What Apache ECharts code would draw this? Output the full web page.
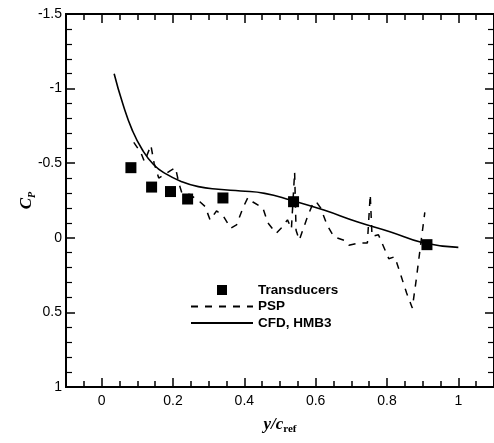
<!DOCTYPE html>
<html>
<head>
<meta charset="utf-8">
<script src="https://cdn.jsdelivr.net/npm/echarts@6/dist/echarts.min.js"></script>
<style>
html, body { margin: 0; padding: 0; background: #fff; }
#chart { width: 494px; height: 443px; }
</style>
</head>
<body>
<div id="chart"></div>
<script>
// Transducers (y/c_ref, Cp)
var transX = [0.082, 0.14, 0.193, 0.241, 0.34, 0.538, 0.912];
var transCp = [-0.47, -0.34, -0.31, -0.26, -0.267, -0.242, 0.046];

// PSP
var pspX = [0.09, 0.11, 0.12, 0.138, 0.147, 0.16, 0.193, 0.207, 0.216, 0.225, 0.248, 0.276, 0.29, 0.304, 0.322, 0.34,
	0.362, 0.378, 0.396, 0.41, 0.424, 0.452, 0.466, 0.489, 0.503, 0.521, 0.532, 0.541, 0.545, 0.554, 0.577, 0.594,
	0.602, 0.614, 0.632, 0.651, 0.683, 0.693, 0.72, 0.745, 0.753, 0.758, 0.776, 0.805, 0.822, 0.84, 0.855, 0.871,
	0.882, 0.896, 0.906];
var pspCp = [-0.64, -0.57, -0.51, -0.62, -0.5, -0.4, -0.45, -0.47, -0.37, -0.3, -0.29, -0.24, -0.21, -0.12, -0.18, -0.15,
	-0.064, -0.086, -0.2, -0.27, -0.24, -0.2, -0.1, -0.03, -0.064, -0.12, -0.06, -0.44, -0.05, 0.015, -0.14, -0.24,
	-0.24, -0.2, -0.086, -0.007, 0.02, 0.05, 0.035, 0.035, -0.29, -0.01, -0.02, 0.14, 0.127, 0.26, 0.37, 0.47,
	0.28, 0.015, -0.17];

// CFD, HMB3
var cfdX = [0.035, 0.059, 0.086, 0.114, 0.146, 0.179, 0.225, 0.271, 0.327, 0.39, 0.457, 0.53, 0.623, 0.716, 0.808, 0.901, 1.0];
var cfdCp = [-1.10, -0.90, -0.72, -0.59, -0.49, -0.43, -0.376, -0.343, -0.325, -0.314, -0.298, -0.253, -0.186, -0.108, -0.041, 0.033, 0.064];

var xMajor = [0, 0.2, 0.4, 0.6, 0.8, 1];
var xMinor = [-0.05, 0.05, 0.1, 0.15, 0.25, 0.3, 0.35, 0.45, 0.5, 0.55, 0.65, 0.7, 0.75, 0.85, 0.9, 0.95, 1.05];

function zip(a, b) {
	var out = [];
	for (var i = 0; i < a.length; i++) {
		out.push([a[i], b[i]]);
	}
	return out;
}

var font = 'Liberation Sans';
var axisLine = { show: true, onZero: false, lineStyle: { color: '#000', width: 2 } };

function xAx(pos, ticks, len, labels) {
	return {
		type: 'value', position: pos, min: -0.1, max: 1.1,
		axisLine: axisLine,
		splitLine: { show: false },
		axisTick: { show: true, inside: true, length: len, customValues: ticks, lineStyle: { color: '#000', width: 1.5 } },
		axisLabel: labels ? {
			show: true, customValues: xMajor, margin: 7, color: '#000', fontFamily: font, fontSize: 14,
			formatter: function(v) { return String(Math.round(v * 10) / 10); }
		} : { show: false }
	};
}

function yAx(pos, labels) {
	return {
		type: 'value', position: pos, inverse: true, min: -1.5, max: 1, interval: 0.5,
		axisLine: axisLine,
		splitLine: { show: false },
		axisTick: { show: true, inside: true, length: 9, lineStyle: { color: '#000', width: 1.5 } },
		minorTick: { show: true, splitNumber: 5, length: 6, lineStyle: { color: '#000', width: 1.2 } },
		axisLabel: labels ? { show: true, margin: 4, color: '#000', fontFamily: font, fontSize: 14 } : { show: false }
	};
}

var xAxes = [xAx('bottom', xMajor, 9, true), xAx('bottom', xMinor, 6, false), xAx('top', xMajor, 9, false), xAx('top', xMinor, 6, false)];
xAxes[0].name = '{i|y/c}{s|ref}';
xAxes[0].nameLocation = 'middle';
xAxes[0].nameGap = 28;
xAxes[0].nameTextStyle = {
	rich: {
		i: { fontFamily: 'Liberation Serif', fontStyle: 'italic', fontWeight: 'bold', fontSize: 17, color: '#000', lineHeight: 20 },
		s: { fontFamily: 'Liberation Serif', fontWeight: 'bold', fontSize: 11, color: '#000', verticalAlign: 'bottom', padding: [8, 0, 0, 0] }
	}
};

var yAxes = [yAx('left', true), yAx('right', false)];
yAxes[0].name = '{i|C}{s|P}';
yAxes[0].nameLocation = 'middle';
yAxes[0].nameGap = 29;
yAxes[0].nameRotate = 90;
yAxes[0].nameMoveOverlap = false;
yAxes[0].nameTextStyle = {
	rich: {
		i: { fontFamily: 'Liberation Serif', fontStyle: 'italic', fontWeight: 'bold', fontSize: 17, color: '#000', lineHeight: 20 },
		s: { fontFamily: 'Liberation Serif', fontStyle: 'italic', fontWeight: 'bold', fontSize: 10, color: '#000', verticalAlign: 'bottom', padding: [8, 0, 0, 0] }
	}
};

var noMark = { color: 'rgba(0,0,0,0)', borderColor: 'rgba(0,0,0,0)', borderWidth: 0 };

var myChart = echarts.init(document.getElementById('chart'));
var option = {
	animation: false,
	backgroundColor: '#fff',
	grid: { left: 66, top: 14, right: -4.7, bottom: 56, containLabel: false },
	legend: {
		orient: 'vertical', left: 185, top: 278,
		itemWidth: 62, itemHeight: 10, itemGap: 2.5,
		textStyle: { fontFamily: font, fontWeight: 'bold', fontSize: 13.5, color: '#000', lineHeight: 13.5 },
		data: [
			{ name: 'Transducers', icon: 'path://M0,5L0.01,5M26,0H36V10H26ZM62,5L61.99,5' },
			{ name: 'PSP', itemStyle: noMark },
			{ name: 'CFD, HMB3', itemStyle: noMark }
		]
	},
	xAxis: xAxes,
	yAxis: yAxes,
	series: [ {
		name: 'CFD, HMB3',
		type: 'line',
		smooth: true,
		symbol: 'none',
		lineStyle: { color: '#000', width: 1.6 },
		itemStyle: { color: '#000' },
		data: zip(cfdX, cfdCp)
	}, {
		name: 'PSP',
		type: 'line',
		symbol: 'none',
		lineStyle: { color: '#000', width: 1.5, type: [7, 7] },
		itemStyle: { color: '#000' },
		data: zip(pspX, pspCp)
	}, {
		name: 'Transducers',
		type: 'scatter',
		symbol: 'rect',
		symbolSize: 11,
		itemStyle: { color: '#000', opacity: 1 },
		data: zip(transX, transCp),
		z: 5
	} ]
};
myChart.setOption(option);
</script>
</body>
</html>
